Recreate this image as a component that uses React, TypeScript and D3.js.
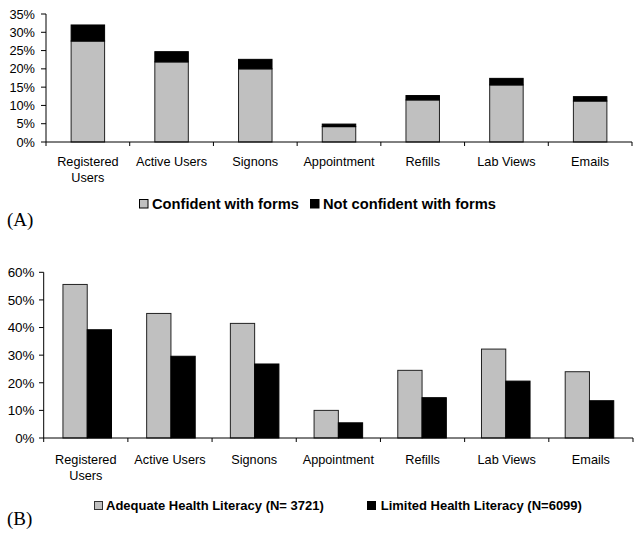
import React from "react";
import * as d3 from "d3";

const categories: string[][] = [
  ["Registered", "Users"],
  ["Active Users"],
  ["Signons"],
  ["Appointment"],
  ["Refills"],
  ["Lab Views"],
  ["Emails"],
];
const catKeys = categories.map((c) => c.join(" "));

// Panel A (stacked)
const confident = [27.6, 21.9, 20.0, 4.2, 11.5, 15.6, 11.2];
const notConfident = [4.4, 2.8, 2.6, 0.7, 1.2, 1.8, 1.2];
const ticksA = [0, 5, 10, 15, 20, 25, 30, 35];

// Panel B (grouped)
const adequate = [55.6, 45.1, 41.5, 10.0, 24.5, 32.2, 24.0];
const limited = [39.2, 29.6, 26.8, 5.5, 14.6, 20.6, 13.5];
const ticksB = [0, 10, 20, 30, 40, 50, 60];

const legendA = ["Confident with forms", "Not confident with forms"];
const legendB = ["Adequate Health Literacy (N= 3721)", "Limited Health Literacy (N=6099)"];

const GRAY = "#c0c0c0";
const FONT = "'Liberation Sans', Arial, sans-serif";

export default function App() {
  // Panel A scales
  const xA = d3.scaleBand<string>().domain(catKeys).range([46, 632]).paddingInner(0.6).paddingOuter(0.3);
  const xAOuter = d3.scaleBand<string>().domain(catKeys).range([46, 632]);
  const yA = d3.scaleLinear().domain([0, 35]).range([142, 14]);

  // Panel B scales
  const xBOuter = d3.scaleBand<string>().domain(catKeys).range([43.7, 633]);
  const xB = d3.scaleBand<string>().domain(catKeys).range([43.7, 633]).paddingInner(0.42).paddingOuter(0.23);
  const xBInner = d3.scaleBand<string>().domain(["a", "l"]).range([0, xB.bandwidth()]);
  const yB = d3.scaleLinear().domain([0, 60]).range([438, 272.3]);

  const boundariesA = [...catKeys.map((k) => xAOuter(k)!), 632];
  const boundariesB = [...catKeys.map((k) => xBOuter(k)!), 633];

  return (
    <svg width={643} height={533} style={{ position: "absolute", left: 0, top: 0, background: "#fff" }} fontFamily={FONT}>
      <rect x={0} y={0} width={643} height={533} fill="#fff" />
      {/* ===== Panel A ===== */}
      <g>
        {/* bars */}
        {catKeys.map((k, i) => {
          const x = xA(k)!;
          const w = xA.bandwidth();
          const y0 = yA(0);
          const y1 = yA(confident[i]);
          const y2 = yA(confident[i] + notConfident[i]);
          return (
            <g key={k}>
              <rect x={x} y={y1} width={w} height={y0 - y1} fill={GRAY} stroke="#222" strokeWidth={1} />
              <rect x={x} y={y2} width={w} height={y1 - y2} fill="#000" stroke="#000" strokeWidth={1} />
            </g>
          );
        })}
        {/* y axis */}
        <line x1={46} x2={46} y1={yA(35)} y2={yA(0)} stroke="#000" />
        {ticksA.map((t) => (
          <g key={t}>
            <line x1={41} x2={46} y1={yA(t)} y2={yA(t)} stroke="#000" />
            <text x={35} y={yA(t)} dy="0.36em" textAnchor="end" fontSize={12.8} fill="#000">
              {t}%
            </text>
          </g>
        ))}
        {/* x axis */}
        <line x1={46} x2={632} y1={yA(0)} y2={yA(0)} stroke="#000" />
        {boundariesA.map((b, i) => (
          <line key={i} x1={b} x2={b} y1={yA(0)} y2={yA(0) + 4} stroke="#000" />
        ))}
        {categories.map((c, i) => (
          <text key={i} textAnchor="middle" fontSize={12.7} fill="#000">
            {c.map((line, j) => (
              <tspan key={j} x={xAOuter(catKeys[i])! + xAOuter.bandwidth() / 2} y={165.5 + j * 16.6}>
                {line}
              </tspan>
            ))}
          </text>
        ))}
        {/* legend */}
        <rect x={139.5} y={199.5} width={8.5} height={8.5} fill={GRAY} stroke="#000" />
        <text x={152} y={209.3} fontSize={14.7} fontWeight="bold" fill="#000">
          {legendA[0]}
        </text>
        <rect x={310.5} y={199.5} width={8.5} height={8.5} fill="#000" stroke="#000" />
        <text x={323} y={209.3} fontSize={14.7} fontWeight="bold" fill="#000">
          {legendA[1]}
        </text>
        <text x={7} y={226} fontSize={19} fontFamily="'Liberation Serif', 'Times New Roman', serif" fill="#000">
          (A)
        </text>
      </g>

      {/* ===== Panel B ===== */}
      <g>
        {catKeys.map((k, i) => {
          const gx = xB(k)!;
          const y0 = yB(0);
          const ya = yB(adequate[i]);
          const yl = yB(limited[i]);
          return (
            <g key={k}>
              <rect x={gx + xBInner("a")!} y={ya} width={xBInner.bandwidth()} height={y0 - ya} fill={GRAY} stroke="#222" strokeWidth={1} />
              <rect x={gx + xBInner("l")!} y={yl} width={xBInner.bandwidth()} height={y0 - yl} fill="#000" stroke="#000" strokeWidth={1} />
            </g>
          );
        })}
        <line x1={43.7} x2={43.7} y1={yB(60)} y2={yB(0)} stroke="#000" />
        {ticksB.map((t) => (
          <g key={t}>
            <line x1={39} x2={43.7} y1={yB(t)} y2={yB(t)} stroke="#000" />
            <text x={34.5} y={yB(t)} dy="0.36em" textAnchor="end" fontSize={13.4} fill="#000">
              {t}%
            </text>
          </g>
        ))}
        <line x1={43.7} x2={633} y1={yB(0)} y2={yB(0)} stroke="#000" />
        {boundariesB.map((b, i) => (
          <line key={i} x1={b} x2={b} y1={yB(0)} y2={yB(0) + 4} stroke="#000" />
        ))}
        {categories.map((c, i) => (
          <text key={i} textAnchor="middle" fontSize={12.7} fill="#000">
            {c.map((line, j) => (
              <tspan key={j} x={xBOuter(catKeys[i])! + xBOuter.bandwidth() / 2} y={463.5 + j * 16.6}>
                {line}
              </tspan>
            ))}
          </text>
        ))}
        <rect x={94.5} y={501.5} width={8} height={8} fill={GRAY} stroke="#333" />
        <text x={106} y={510.3} fontSize={13} fontWeight="bold" fill="#000">
          {legendB[0]}
        </text>
        <rect x={367.5} y={501.5} width={8} height={8} fill="#000" stroke="#000" />
        <text x={380.7} y={510.3} fontSize={13} fontWeight="bold" fill="#000">
          {legendB[1]}
        </text>
        <text x={7} y={525} fontSize={19} fontFamily="'Liberation Serif', 'Times New Roman', serif" fill="#000">
          (B)
        </text>
      </g>
    </svg>
  );
}
